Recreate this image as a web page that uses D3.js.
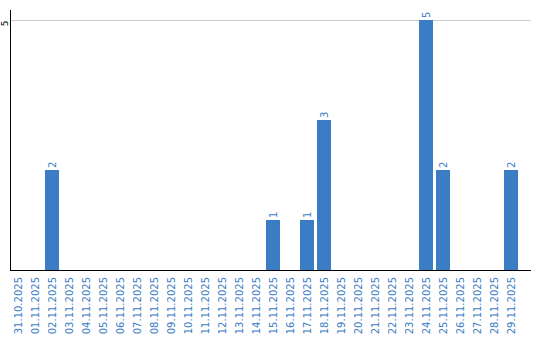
<!DOCTYPE html>
<html><head><meta charset="utf-8">
<script src="https://cdn.jsdelivr.net/npm/d3@7"></script>
<style>body{margin:0;background:#fff}svg{display:block}</style>
</head><body><svg id="c" width="540" height="340"></svg>
<script>
const categories = ["31.10.2025","01.11.2025","02.11.2025","03.11.2025","04.11.2025","05.11.2025","06.11.2025","07.11.2025","08.11.2025","09.11.2025","10.11.2025","11.11.2025","12.11.2025","13.11.2025","14.11.2025","15.11.2025","16.11.2025","17.11.2025","18.11.2025","19.11.2025","20.11.2025","21.11.2025","22.11.2025","23.11.2025","24.11.2025","25.11.2025","26.11.2025","27.11.2025","28.11.2025","29.11.2025"];
const values = [0,0,2,0,0,0,0,0,0,0,0,0,0,0,0,1,0,1,3,0,0,0,0,0,5,2,0,0,0,2];
const yTicks = [5];

const blue = "#3b7dc4";
const font = "DejaVu Sans";
const svg = d3.select("#c");
const x = d3.scaleBand().domain(categories).range([11, 518]).paddingInner(3/17).paddingOuter(0);
const y = d3.scaleLinear().domain([0,5]).range([270,20]);

// gridlines
svg.append("g").selectAll("line").data(yTicks).join("line")
  .attr("x1",11).attr("x2",531).attr("y1",d=>Math.round(y(d))+0.5).attr("y2",d=>Math.round(y(d))+0.5)
  .attr("stroke","#cccccc").attr("stroke-width",1);

// bars
svg.append("g").selectAll("rect").data(values.map((v,i)=>({c:categories[i],v}))).join("rect")
  .attr("x",d=>x(d.c)).attr("width",x.bandwidth())
  .attr("y",d=>y(d.v)).attr("height",d=>y(0)-y(d.v))
  .attr("fill",blue).attr("shape-rendering","crispEdges");

// value labels
svg.append("g").selectAll("text").data(values.map((v,i)=>({c:categories[i],v})).filter(d=>d.v>0)).join("text")
  .attr("transform",d=>`translate(${x(d.c)+x.bandwidth()/2},${y(d.v)-2}) rotate(-90)`)
  .attr("dy","0.35em").attr("text-anchor","start")
  .attr("font-family",font).attr("font-size",10).attr("fill",blue)
  .text(d=>d.v);

// x axis
const xa = svg.append("g").attr("transform","translate(0,270)")
  .call(d3.axisBottom(x).tickSize(0).tickPadding(0));
xa.select(".domain").remove();
xa.selectAll("text")
  .attr("transform","translate(0,7) rotate(-90)")
  .attr("x",0).attr("y",0).attr("dy","0.35em")
  .attr("text-anchor","end")
  .attr("font-family",font).attr("font-size",10).attr("fill",blue);

// y axis
const ya = svg.append("g").attr("transform","translate(11,0)")
  .call(d3.axisLeft(y).tickValues(yTicks).tickFormat(d3.format("d")).tickSize(0).tickPadding(0));
ya.select(".domain").remove();
ya.selectAll("text")
  .attr("transform","translate(-3.5,0) rotate(-90)")
  .attr("x",0).attr("y",0).attr("dy",0)
  .attr("text-anchor","end")
  .attr("font-family",font).attr("font-size",9).attr("fill","#000");

// axis lines
svg.append("line").attr("x1",10.5).attr("x2",10.5).attr("y1",10).attr("y2",271).attr("stroke","#000");
svg.append("line").attr("x1",10).attr("x2",531).attr("y1",270.5).attr("y2",270.5).attr("stroke","#000");
</script></body></html>
